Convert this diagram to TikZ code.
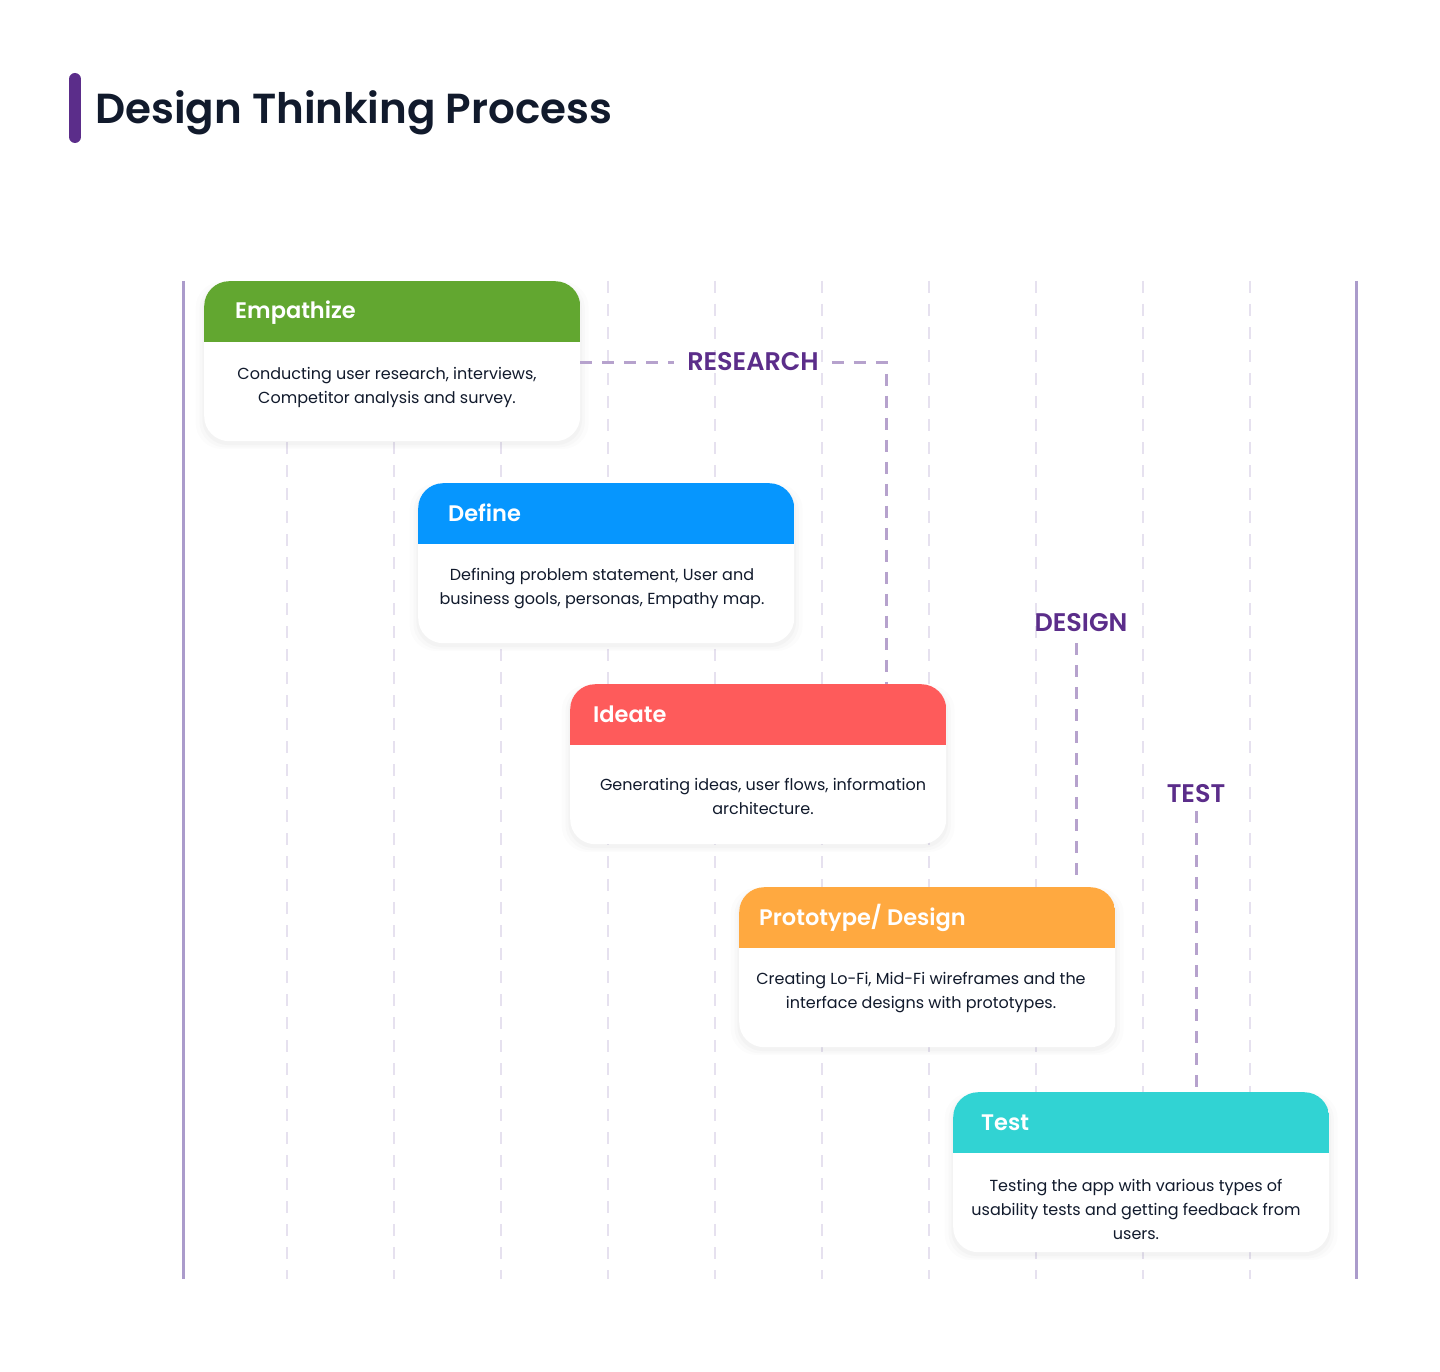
\documentclass[tikz,border=0pt]{standalone}
\usepackage{fontspec}
\setmainfont{Poppins}[BoldFont={Poppins SemiBold}]
\usetikzlibrary{shadows}

\definecolor{ink}{HTML}{111A2C}
\definecolor{plum}{HTML}{5B2D8A}
\definecolor{lilac}{HTML}{B6A2CD}
\definecolor{haze}{HTML}{E6E1EF}
\definecolor{rail}{HTML}{AB9BCB}
\definecolor{cgreen}{HTML}{62A730}
\definecolor{cblue}{HTML}{0696FE}
\definecolor{cred}{HTML}{FE5B5B}
\definecolor{corange}{HTML}{FFA940}
\definecolor{ccyan}{HTML}{31D3D3}

\begin{document}
\begin{tikzpicture}[x=1pt,y=-1pt,
    card/.style={fill=white,rounded corners=25pt,minimum width=376pt,minimum height=160pt,
      anchor=north west,inner sep=0pt,
      drop shadow={opacity=.025,shadow xshift=0pt,shadow yshift=-4pt,shadow scale=1.045},
      drop shadow={opacity=.03,shadow xshift=0pt,shadow yshift=-4pt,shadow scale=1.025},
      drop shadow={opacity=.035,shadow xshift=0pt,shadow yshift=-3pt,shadow scale=1.01},
      path picture={\fill[#1,sharp corners] (path picture bounding box.north west)
        rectangle ([yshift=-61pt]path picture bounding box.north east);}},
    head/.style={anchor=base west,text=white,font=\fontsize{22.5}{26}\selectfont\bfseries,inner sep=0pt},
    body/.style={align=center,text=ink,font=\fontsize{16}{24}\selectfont,inner sep=0pt},
    phase/.style={text=plum,font=\fontsize{25.5}{28}\selectfont\bfseries,inner xsep=13pt,inner ysep=8pt},
    gridline/.style={haze,line width=2.5pt,dash pattern=on 12pt off 11pt},
    link/.style={lilac,line width=3pt,dash pattern=on 12pt off 10pt}]
\useasboundingbox[fill=white] (0,0) rectangle (1440,1372);

% heading
\draw[plum,line width=12pt,line cap=round] (75,79) -- (75,137);
\node[anchor=base west,text=ink,font=\fontsize{42}{48}\selectfont\bfseries,inner sep=0pt] (title) at (95,124) {Design Thinking Process};

% rails and grid
\draw[rail,line width=3pt] (183,281) -- (183,1279);
\draw[rail,line width=3pt] (1356,281) -- (1356,1279);
\foreach \x in {287,394,...,1250}
    \draw[gridline] (\x,281) -- (\x,1279);

% cards
\node[card=cgreen]  (emp) at (204,281) {};
\node[card=cblue]   (def) at (418,483) {};
\node[card=cred]    (ide) at (570,684) {};
\node[card=corange] (pro) at (739,887) {};
\node[card=ccyan]   (tst) at (953,1092) {};

\node[head] at ([xshift=31pt,yshift=-38pt]emp.north west) {Empathize};
\node[head] at ([xshift=30pt,yshift=-38pt]def.north west) {Define};
\node[head] at ([xshift=23pt,yshift=-38pt]ide.north west) {Ideate};
\node[head] at ([xshift=20pt,yshift=-38pt]pro.north west) {Prototype/ Design};
\node[head] at ([xshift=28pt,yshift=-38pt]tst.north west) {Test};

\node[body] (empt) at (387,387) {Conducting user research, interviews,\\Competitor analysis and survey.};
\node[body] (deft) at (602,589) {Defining problem statement, User and\\business gools, personas, Empathy map.};
\node[body] (idet) at (763,796) {Generating ideas, user flows, information\\architecture.};
\node[body] (prot) at (921,993) {Creating Lo-Fi, Mid-Fi wireframes and the\\interface designs with prototypes.};
\node[body] (tstt) at (1136,1209) {Testing the app with various types of\\usability tests and getting feedback from\\users.};

% phases
\node[phase] (res) at (753,362) {RESEARCH};
\node[phase] (dsg) at (1081,623) {DESIGN};
\node[phase] (tes) at (1196,794) {TEST};
\coordinate (rescorner) at (886,362);
\coordinate (dsgtop) at (1076,643);

\draw[link] (emp.east |- res) -- (res.west);
\draw[link] (res.east) -- (rescorner) -- (rescorner |- ide.north);
\draw[link,shorten >=10pt] (dsgtop) -- (dsgtop |- pro.north);
\draw[link] (tes.south) -- (tes.south |- tst.north);
\end{tikzpicture}
\end{document}
